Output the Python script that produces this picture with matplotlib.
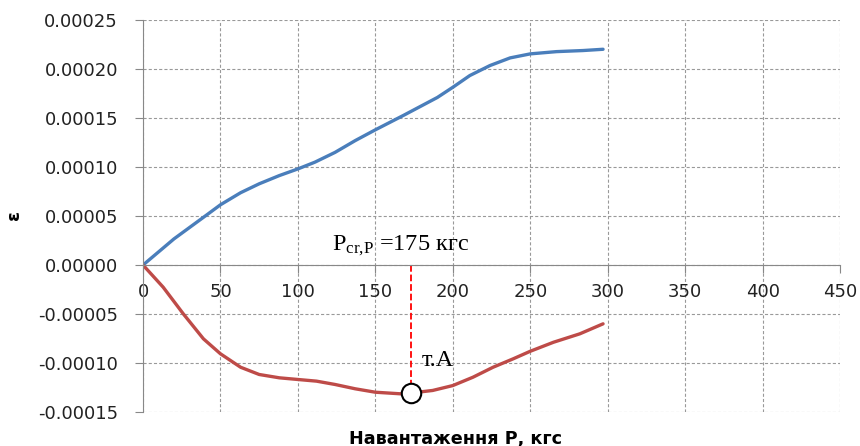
import numpy as np
import matplotlib.pyplot as plt

# дані
P_blue = [0, 20, 41, 50, 63, 75, 88, 100, 111, 124, 137, 150, 168, 190,
          200, 211, 224, 237, 250, 267, 284, 297]
eps_blue = [0.0, 0.0000267, 0.000051, 0.0000615, 0.0000738, 0.0000829, 0.0000913,
            0.0000981, 0.000105, 0.000115, 0.000127, 0.000138, 0.0001526, 0.000171,
            0.0001814, 0.0001934, 0.0002036, 0.0002114, 0.0002155, 0.0002178,
            0.0002189, 0.0002202]
P_red = [0, 13, 26, 39, 50, 63, 75, 88, 100, 112, 124, 137, 150, 166, 173,
         187, 200, 213, 226, 239, 250, 265, 282, 297]
eps_red = [0.0, -0.0000226, -0.0000498, -0.0000753, -0.0000906, -0.0001043, -0.0001117,
           -0.0001151, -0.0001168, -0.0001185, -0.0001219, -0.0001263, -0.0001298,
           -0.0001314, -0.0001306, -0.000128, -0.000123, -0.0001145, -0.0001043,
           -0.0000957, -0.000088, -0.0000788, -0.0000702, -0.00006]
P_cr = 173
eps_A = -0.0001304

xticks = [0, 50, 100, 150, 200, 250, 300, 350, 400, 450]
yticks = [-0.00015, -0.0001, -0.00005, 0.0, 0.00005, 0.0001, 0.00015, 0.0002, 0.00025]

plt.rcParams['font.family'] = ['DejaVu Sans']
plt.rcParams['mathtext.fontset'] = 'custom'
plt.rcParams['mathtext.rm'] = 'Liberation Serif'

fig = plt.figure(figsize=(8.6, 4.46), dpi=100)
ax = fig.add_axes([0.1663, 0.0762, 0.8105, 0.8788])

ax.plot(P_blue, eps_blue, color='#4a7ebb', linewidth=2.4,
        solid_capstyle='round', solid_joinstyle='round')
ax.plot(P_red, eps_red, color='#be4b48', linewidth=2.4,
        solid_capstyle='round', solid_joinstyle='round')

ax.plot([P_cr, P_cr], [0, eps_A], color='red', linestyle='--', linewidth=1.3)
ax.plot(P_cr, eps_A, 'o', markersize=14, markerfacecolor='white',
        markeredgecolor='black', markeredgewidth=1.5, zorder=5)

ax.text(122, 0.0000145, r'$\mathrm{P_{cr{,}P}}$ =175 кгс', fontsize=17.5,
        family='Liberation Serif', color='black')
ax.text(180, -0.000103, 'т.А', fontsize=17.5, family='Liberation Serif', color='black')

ax.set_xlim(0, 450)
ax.set_ylim(-0.00015, 0.00025)
ax.set_xticks(xticks)
ax.set_yticks(yticks)
ax.set_xticklabels([str(v) for v in xticks])
ax.set_yticklabels(['%.5f' % v for v in yticks])

ax.grid(True, color='#999999', linestyle=(0, (2.8, 1.9)), linewidth=0.8)
for s in ['top', 'right']:
    ax.spines[s].set_visible(False)
ax.spines['bottom'].set_position(('data', 0))
ax.spines['bottom'].set_color('#888888')
ax.spines['left'].set_color('#888888')
ax.set_axisbelow(True)

ax.tick_params(axis='y', direction='out', length=6, width=0.8, color='#888888',
               pad=12, labelsize=13, labelcolor='#222222')
ax.tick_params(axis='x', direction='out', length=6, width=0.8, color='#888888',
               pad=7, labelsize=13, labelcolor='#222222')

ax.set_xlabel('Навантаження Р, кгс', fontsize=12.7, fontweight='bold')
ax.xaxis.set_label_coords(0.449, -0.045)
ax.set_ylabel('ε', fontsize=13, fontweight='bold')
ax.yaxis.set_label_coords(-0.172, 0.502)

fig.savefig('out.png', dpi=100)
